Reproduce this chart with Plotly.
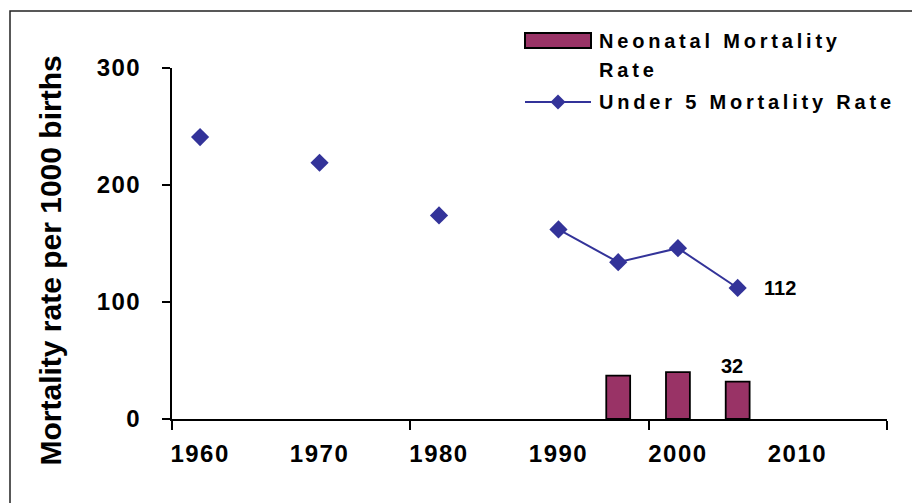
import plotly.graph_objects as go

# ---- data ----
years_u5 = [1960, 1970, 1980, 1990, 1995, 2000, 2005]
u5_rate = [241, 219, 174, 162, 134, 146, 112]
line_start_year = 1990  # points from this year on are joined by a line

years_nn = [1995, 2000, 2005]
nn_rate = [37, 40, 32]

x_tick_labels = [1960, 1970, 1980, 1990, 2000, 2010]
x_tick_marks = [1957.65, 1977.6, 1997.55, 2017.5]
y_ticks = [0, 100, 200, 300]

BAR = "#993366"
NAVY = "#333399"
FONT = "Liberation Sans, Arial, sans-serif"

W, H = 912, 503
L, R, T, B = 172, 25, 68, 84
PW, PH = W - L - R, H - T - B


def px(xp):
    return (xp - L) / PW


def py(yp):
    return (H - B - yp) / PH


fig = go.Figure()

fig.add_trace(go.Bar(
    x=years_nn, y=nn_rate, width=2,
    marker=dict(color=BAR, line=dict(color="black", width=1.8)),
    name="Neonatal Mortality Rate",
))

conn_x = [x for x in years_u5 if x >= line_start_year]
conn_y = [y for x, y in zip(years_u5, u5_rate) if x >= line_start_year]
fig.add_trace(go.Scatter(
    x=conn_x, y=conn_y, mode="lines",
    line=dict(color=NAVY, width=2), name="Under 5 Mortality Rate",
))
fig.add_trace(go.Scatter(
    x=years_u5, y=u5_rate, mode="markers",
    marker=dict(symbol="diamond", size=14, color=NAVY),
    name="Under 5 Mortality Rate",
))

# value labels
fig.add_annotation(x=years_u5[-1], y=u5_rate[-1], text=str(u5_rate[-1]),
                   showarrow=False, xshift=42,
                   font=dict(family=FONT, size=20, color="black", weight="bold"))
fig.add_annotation(x=years_nn[-1], y=nn_rate[-1], text=str(nn_rate[-1]),
                   showarrow=False, yanchor="bottom", yshift=3, xshift=-6,
                   font=dict(family=FONT, size=20, color="black", weight="bold"))

# y-axis title
fig.add_annotation(xref="paper", yref="paper", x=px(49.5), y=py(261),
                   text="Mortality rate per 1000 births", textangle=-90,
                   xanchor="center", yanchor="middle", showarrow=False,
                   font=dict(family=FONT, size=30, color="black", weight="bold"))

# manual legend
shapes = []
shapes.append(dict(type="rect", xref="paper", yref="paper",
                   x0=px(525), x1=px(591), y0=py(48), y1=py(33),
                   fillcolor=BAR, line=dict(color="black", width=2)))
shapes.append(dict(type="line", xref="paper", yref="paper",
                   x0=px(525), x1=px(591), y0=py(102), y1=py(102),
                   line=dict(color=NAVY, width=2)))
cx, cy, d = 558, 102, 7.5
shapes.append(dict(type="path", xref="paper", yref="paper",
                   path=f"M{px(cx-d)},{py(cy)} L{px(cx)},{py(cy-d)} L{px(cx+d)},{py(cy)} L{px(cx)},{py(cy+d)} Z",
                   fillcolor=NAVY, line=dict(color=NAVY, width=0)))
# outer frame
shapes.append(dict(type="rect", xref="paper", yref="paper",
                   x0=px(10), x1=px(930), y0=py(520), y1=py(11),
                   line=dict(color="#222222", width=1.5), fillcolor="rgba(0,0,0,0)"))

legend_texts = ["Neonatal Mortality", "Rate", "Under 5 Mortality Rate"]
lf = dict(family=FONT, size=20, color="black", weight="bold")
for txt, yy in zip(legend_texts, [41, 70, 102]):
    fig.add_annotation(xref="paper", yref="paper", x=px(597), y=py(yy), text=txt,
                       xanchor="left", yanchor="middle", showarrow=False, font=lf)

tf = dict(family=FONT, size=24, color="black", weight="bold")
fig.update_layout(
    width=W, height=H, margin=dict(l=L, r=R, t=T, b=B, autoexpand=False),
    paper_bgcolor="white", plot_bgcolor="white", showlegend=False,
    shapes=shapes,
    xaxis=dict(range=[1957.65, 2017.5], tickmode="array", tickvals=x_tick_labels,
               ticks="", showline=True, linecolor="black", linewidth=2,
               showgrid=False, zeroline=False, tickfont=tf, ticklabelstandoff=12,
               minor=dict(tickmode="array", tickvals=x_tick_marks, ticks="outside",
                          ticklen=9, tickwidth=2, tickcolor="black", showgrid=False)),
    yaxis=dict(range=[0, 300], tickmode="array", tickvals=y_ticks,
               ticks="outside", ticklen=8, tickwidth=2, tickcolor="black",
               showline=True, linecolor="black", linewidth=2,
               showgrid=False, zeroline=False, tickfont=tf, ticklabelstandoff=16),
)

post = """
document.body.style.margin = '0';
var legendTexts = %s;
document.querySelectorAll('.annotation-text').forEach(function(t){
  var s = t.textContent;
  if (legendTexts.indexOf(s) >= 0) {
    var bb = t.getBBox();
    t.setAttribute('text-anchor', 'start');
    t.setAttribute('x', bb.x);
    t.querySelectorAll('tspan[x]').forEach(function(ts){ ts.setAttribute('x', bb.x); });
    t.style.letterSpacing = '3.8px';
  }
});
document.querySelectorAll('.xtick text, .ytick text').forEach(function(t){
  t.style.letterSpacing = '1.5px';
});
""" % str(legend_texts).replace("'", '"')
fig.write_html("out.html", post_script=post, config={"displayModeBar": False})
